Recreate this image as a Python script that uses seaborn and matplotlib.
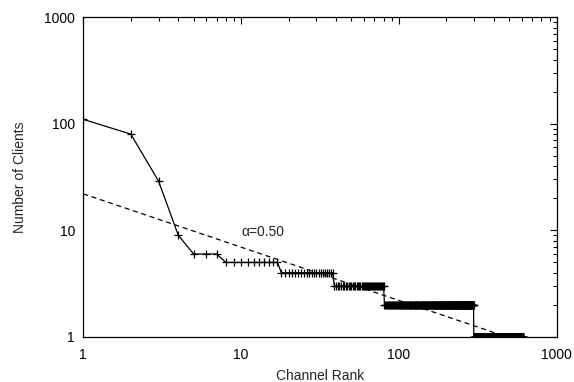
import numpy as np
import pandas as pd
import matplotlib
matplotlib.use("Agg")
import matplotlib.pyplot as plt
import seaborn as sns
from matplotlib.ticker import LogLocator, FixedLocator, NullFormatter

# Run-length description of the ranked data
level_values = [110, 80, 29, 9, 6, 5, 4, 3, 2, 1]
level_counts = [1, 1, 1, 1, 3, 10, 21, 42, 217, 318]
fit_alpha = 0.50
fit_scale = 22.0
fit_label = "\u03b1=0.50"
x_ticks = [1, 10, 100, 1000]
y_ticks = [1, 10, 100, 1000]

clients = np.repeat(level_values, level_counts)
rank = np.arange(1, len(clients) + 1)
df = pd.DataFrame({"rank": rank, "clients": clients})

fit_x = np.logspace(0, np.log10(fit_scale ** (1 / fit_alpha)), 200)
fit_df = pd.DataFrame({"rank": fit_x, "clients": fit_scale * fit_x ** (-fit_alpha)})

sns.set_style("white")
plt.rcParams["font.family"] = ["Liberation Sans", "DejaVu Sans"]

fig, ax = plt.subplots(figsize=(5.74, 3.82), dpi=100)
fig.subplots_adjust(left=0.145, right=0.970, top=0.955, bottom=0.118)

sns.lineplot(data=df, x="rank", y="clients", ax=ax, color="black", lw=0.9,
             marker="+", markersize=6, markeredgewidth=0.9, markeredgecolor="black")
sns.lineplot(data=fit_df, x="rank", y="clients", ax=ax, color="black", lw=0.9,
             linestyle=(0, (4, 3)))

ax.set_xscale("log")
ax.set_yscale("log")
ax.set_xlim(1, 1000)
ax.set_ylim(1, 1000)
ax.xaxis.set_major_locator(FixedLocator(x_ticks))
ax.yaxis.set_major_locator(FixedLocator(y_ticks))
ax.set_xticklabels([str(t) for t in x_ticks])
ax.set_yticklabels([str(t) for t in y_ticks])
ax.xaxis.set_minor_locator(LogLocator(base=10, subs=np.arange(2, 10)))
ax.yaxis.set_minor_locator(LogLocator(base=10, subs=np.arange(2, 10)))
ax.xaxis.set_minor_formatter(NullFormatter())
ax.yaxis.set_minor_formatter(NullFormatter())
ax.tick_params(which="both", direction="in", top=True, right=True, colors="black",
               labelsize=10, width=0.8)
ax.tick_params(which="major", length=5)
ax.tick_params(axis="x", which="major", pad=8)
ax.tick_params(axis="y", which="major", pad=6)
ax.tick_params(which="minor", length=3)
for s in ax.spines.values():
    s.set_color("black")
    s.set_linewidth(0.9)

ax.text(10, 9.6, fit_label, fontsize=10, ha="left", va="center")
ax.set_xlabel("Channel Rank", fontsize=10, labelpad=5)
ax.set_ylabel("Number of Clients", fontsize=10, labelpad=12)

fig.savefig("out.png", dpi=100)
